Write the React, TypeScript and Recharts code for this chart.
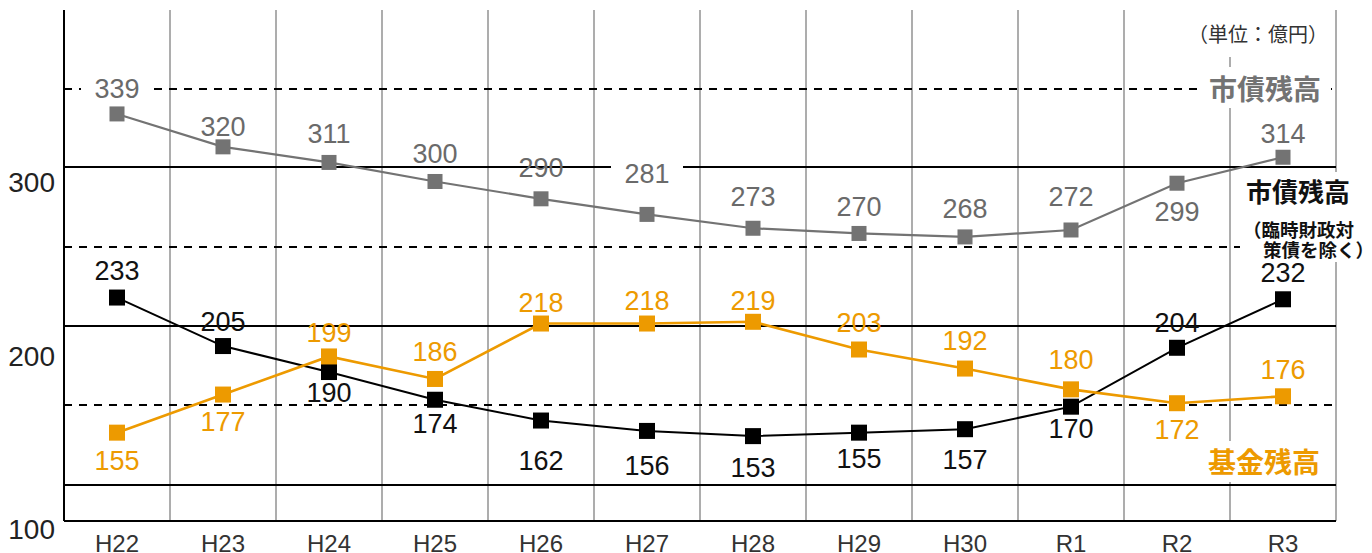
import React from 'react';
import { LineChart, Line, XAxis, YAxis, CartesianGrid, ReferenceLine } from 'recharts';

// ---- data ----
const years = ['H22', 'H23', 'H24', 'H25', 'H26', 'H27', 'H28', 'H29', 'H30', 'R1', 'R2', 'R3'];
const bondTotal = [339, 320, 311, 300, 290, 281, 273, 270, 268, 272, 299, 314];
const bondExclSpecial = [233, 205, 190, 174, 162, 156, 153, 155, 157, 170, 204, 232];
const fundBalance = [155, 177, 199, 186, 218, 218, 219, 203, 192, 180, 172, 176];
const yTicks = [100, 200, 300];
const solidGuides = [308.4, 216.6, 124.8];
const dashedGuides = [353.4, 262.2, 171.0];

const data = years.map((year, i) => ({
  year,
  bondTotal: bondTotal[i],
  bondExcl: bondExclSpecial[i],
  fund: fundBalance[i],
}));

// ---- label placement (style) ----
const grayDy = [-26, -21, -29, -28, -32, -41, -32, -27, -29, -34, 28, -24];
const blackDy = [-27, -25, 20, 24, 40, 34, 31, 26, 30, 22, -25, -27];
const orangeDy = [28, 27, -24, -28, -21, -23, -22, -27, -28, -30, 26, -27];
const grayBoxed = [0, 5];

const GRAY = '#737373';
const BLACK = '#000000';
const ORANGE = '#ED9A00';
const NUM_FONT = '"Liberation Sans", Arial, Helvetica, sans-serif';
const JP_FONT = '"Noto Sans CJK JP", "Noto Sans", sans-serif';

const makeDot = (color: string, size: number, dys: number[], labelColor: string, boxed: number[] = []) =>
  (props: any) => {
    const { cx, cy, index, value } = props;
    if (cx == null || cy == null) return <g key={`d-${index}`} />;
    const ly = cy + dys[index];
    return (
      <g key={`d-${index}`}>
        <rect x={cx - size / 2} y={cy - size / 2} width={size} height={size} fill={color} />
        {boxed.includes(index) && <rect x={cx - 36} y={ly - 16} width={72} height={32} fill="#fff" />}
        <text
          x={cx}
          y={ly}
          dy="0.36em"
          textAnchor="middle"
          fill={labelColor}
          fontSize={27}
          fontFamily={NUM_FONT}
        >
          {Array.isArray(value) ? value[1] : value}
        </text>
      </g>
    );
  };

const YTick = (props: any) => {
  const { x, y, payload } = props;
  return (
    <text x={x} y={y} dy={11} textAnchor="end" fill="#222" fontSize={28} fontFamily={NUM_FONT}>
      {payload.value}
    </text>
  );
};

const XTick = (props: any) => {
  const { x, y, payload } = props;
  return (
    <text x={x} y={y} dy={17} textAnchor="middle" fill="#333" fontSize={24} fontFamily={NUM_FONT}>
      {payload.value}
    </text>
  );
};

const boxStyle = (left: number, top: number, width: number, height: number): React.CSSProperties => ({
  position: 'absolute',
  left,
  top,
  width,
  height,
  background: '#fff',
});

const textStyle = (
  left: number, top: number, width: number, size: number, color: string, weight: number,
  align: 'left' | 'center' = 'center', lh: number = size + 4
): React.CSSProperties => ({
  position: 'absolute',
  left,
  top,
  width,
  height: lh,
  lineHeight: `${lh}px`,
  fontSize: size,
  fontFamily: JP_FONT,
  fontWeight: weight,
  color,
  textAlign: align,
  whiteSpace: 'nowrap',
  overflow: 'visible',
});

export default function App() {
  return (
    <div style={{ position: 'absolute', left: 0, top: 0, width: 1372, height: 553, background: '#fff', overflow: 'hidden' }}>
      <LineChart width={1372} height={553} data={data} margin={{ top: 10, right: 36, bottom: 0, left: 0 }}>
        <CartesianGrid
          horizontal={false}
          stroke="#999"
          strokeWidth={1.6}
          verticalCoordinatesGenerator={({ offset }: any) =>
            years.map((_, i) => offset.left + ((i + 1) * offset.width) / years.length)
          }
        />
        {solidGuides.map((v) => (
          <ReferenceLine key={`s${v}`} y={v} stroke="#000" strokeWidth={2} />
        ))}
        {dashedGuides.map((v) => (
          <ReferenceLine key={`d${v}`} y={v} stroke="#000" strokeWidth={2} strokeDasharray="8 7" />
        ))}
        <XAxis
          dataKey="year"
          scale="band"
          height={32}
          tickLine={false}
          tickSize={0}
          tickMargin={14}
          axisLine={{ stroke: '#000', strokeWidth: 2 }}
          tick={<XTick />}
          interval={0}
        />
        <YAxis
          type="number"
          width={64}
          domain={[104, 399]}
          allowDataOverflow
          ticks={yTicks}
          interval={0}
          tickLine={false}
          tickSize={0}
          tickMargin={9}
          axisLine={{ stroke: '#000', strokeWidth: 2 }}
          tick={<YTick />}
        />
        <Line
          dataKey="bondTotal"
          stroke={GRAY}
          strokeWidth={2.2}
          isAnimationActive={false}
          dot={makeDot(GRAY, 15, grayDy, '#6a6a6a', grayBoxed)}
          activeDot={false}
        />
        <Line
          dataKey="bondExcl"
          stroke={BLACK}
          strokeWidth={2}
          isAnimationActive={false}
          dot={makeDot(BLACK, 16, blackDy, '#111')}
          activeDot={false}
        />
        <Line
          dataKey="fund"
          stroke={ORANGE}
          strokeWidth={2.6}
          isAnimationActive={false}
          dot={makeDot(ORANGE, 16, orangeDy, ORANGE)}
          activeDot={false}
        />
      </LineChart>

      {/* annotations */}
      <div style={boxStyle(1186, 0, 146, 57)} />
      <div style={textStyle(1158, 22, 200, 20, '#333', 400)}>（単位：億円）</div>

      <div style={boxStyle(1197, 67, 134, 41)} />
      <div style={textStyle(1165, 72, 200, 28, GRAY, 700)}>市債残高</div>

      <div style={boxStyle(1240, 172, 132, 90)} />
      <div style={textStyle(1198, 176, 200, 26, '#111', 700)}>市債残高</div>
      <div style={textStyle(1243, 219.5, 129, 18.5, '#111', 700, 'left', 19)}>（臨時財政対</div>
      <div style={textStyle(1263, 239.5, 109, 18.5, '#111', 700, 'left', 19)}>策債を除く）</div>

      <div style={boxStyle(1200, 441, 131, 41)} />
      <div style={textStyle(1164, 445, 200, 28, ORANGE, 700)}>基金残高</div>
    </div>
  );
}
